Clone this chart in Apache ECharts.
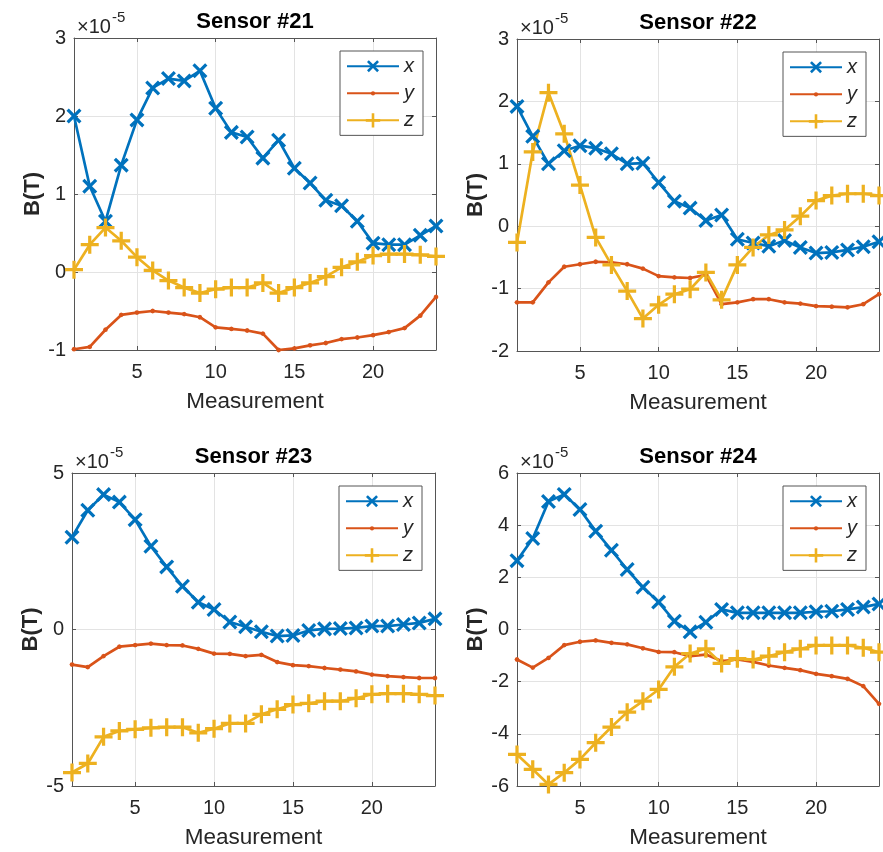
<!DOCTYPE html>
<html><head><meta charset="utf-8">
<script src="https://cdn.jsdelivr.net/npm/echarts@6/dist/echarts.min.js"></script>
<style>html,body{margin:0;padding:0;background:#fff}#c{width:883px;height:852px}</style>
</head><body><div id="c"></div>
<script>
// ---- data (B values in units of 1e-5 T) ----
const measurement = [1,2,3,4,5,6,7,8,9,10,11,12,13,14,15,16,17,18,19,20,21,22,23,24];
const sensorTitles = ['Sensor #21','Sensor #22','Sensor #23','Sensor #24'];
const seriesNames = ['x','y','z'];
const xTickValues = [5,10,15,20];
const exponentText = '-5';

const s21x = [2.0,1.1,0.65,1.37,1.95,2.36,2.48,2.45,2.58,2.10,1.79,1.73,1.46,1.69,1.33,1.14,0.92,0.85,0.65,0.37,0.35,0.35,0.47,0.59];
const s21y = [-0.99,-0.96,-0.74,-0.55,-0.52,-0.50,-0.52,-0.54,-0.58,-0.71,-0.73,-0.75,-0.79,-1.0,-0.98,-0.94,-0.91,-0.86,-0.84,-0.81,-0.77,-0.72,-0.56,-0.32];
const s21z = [0.03,0.35,0.57,0.40,0.19,0.02,-0.11,-0.20,-0.27,-0.22,-0.20,-0.20,-0.14,-0.27,-0.20,-0.14,-0.06,0.06,0.13,0.21,0.23,0.23,0.22,0.20];

const s22x = [1.92,1.44,1.0,1.21,1.29,1.25,1.16,1.0,1.01,0.70,0.40,0.29,0.09,0.18,-0.21,-0.27,-0.32,-0.23,-0.34,-0.43,-0.42,-0.38,-0.33,-0.25];
const s22y = [-1.22,-1.22,-0.90,-0.65,-0.61,-0.57,-0.58,-0.61,-0.68,-0.80,-0.82,-0.83,-0.78,-1.25,-1.22,-1.17,-1.17,-1.22,-1.24,-1.28,-1.29,-1.30,-1.25,-1.09];
const s22z = [-0.26,1.19,2.14,1.48,0.66,-0.18,-0.62,-1.04,-1.48,-1.26,-1.09,-1.01,-0.74,-1.18,-0.62,-0.34,-0.14,-0.06,0.16,0.41,0.49,0.52,0.52,0.49];

const s23x = [2.95,3.81,4.31,4.07,3.51,2.66,2.0,1.38,0.87,0.64,0.24,0.09,-0.07,-0.21,-0.19,-0.03,0.02,0.03,0.05,0.11,0.11,0.16,0.21,0.34];
const s23y = [-1.12,-1.20,-0.85,-0.55,-0.50,-0.45,-0.50,-0.51,-0.62,-0.77,-0.78,-0.85,-0.81,-1.04,-1.14,-1.17,-1.23,-1.28,-1.34,-1.44,-1.49,-1.52,-1.55,-1.55];
const s23z = [-4.57,-4.28,-3.43,-3.24,-3.19,-3.14,-3.12,-3.12,-3.30,-3.17,-3.0,-3.0,-2.71,-2.55,-2.40,-2.36,-2.29,-2.29,-2.20,-2.07,-2.05,-2.05,-2.07,-2.11];

const s24x = [2.64,3.49,4.91,5.18,4.60,3.77,3.04,2.30,1.62,1.05,0.32,-0.09,0.28,0.77,0.64,0.64,0.64,0.64,0.64,0.68,0.70,0.77,0.86,0.98];
const s24y = [-1.15,-1.46,-1.09,-0.60,-0.47,-0.42,-0.51,-0.57,-0.72,-0.86,-0.87,-1.02,-0.96,-1.21,-1.15,-1.24,-1.38,-1.47,-1.56,-1.70,-1.79,-1.89,-2.17,-2.85];
const s24z = [-4.79,-5.36,-5.94,-5.49,-4.98,-4.34,-3.74,-3.17,-2.75,-2.30,-1.43,-0.92,-0.74,-1.30,-1.12,-1.15,-1.02,-0.87,-0.74,-0.61,-0.61,-0.61,-0.70,-0.87];

const yTicks21 = [-1,0,1,2,3];
const yTicks22 = [-2,-1,0,1,2,3];
const yTicks23 = [-5,0,5];
const yTicks24 = [-6,-4,-2,0,2,4,6];

// ---- layout & style ----
const sensors = [
  {data:[s21x,s21y,s21z], ticks:yTicks21},
  {data:[s22x,s22y,s22z], ticks:yTicks22},
  {data:[s23x,s23y,s23z], ticks:yTicks23},
  {data:[s24x,s24y,s24z], ticks:yTicks24}
];
const grids = [
  {left:74, top:38, width:362, height:312},
  {left:517, top:39, width:362, height:312},
  {left:72, top:473, width:363, height:313},
  {left:517, top:473, width:362, height:313}
];
const W = 883;
const FONT = '"Liberation Sans", Arial, Helvetica, sans-serif';
const TXT = '#262626';
const AX = '#555555';
const GRIDC = '#e3e3e3';
const COLORS = ['#0072BD','#D95319','#EDB120'];
const PLUS = 'path://M41,0H59V41H100V59H59V100H41V59H0V41H41Z';
const DOT = 'path://M0,0L0,0M100,100L100,100M50,35L60.6,39.4L65,50L60.6,60.6L50,65L39.4,60.6L35,50L39.4,39.4Z';
const SYMBOLS = [
  {symbol:PLUS, symbolSize:18, symbolRotate:45},
  {symbol:DOT, symbolSize:16, symbolRotate:0},
  {symbol:PLUS, symbolSize:18, symbolRotate:0}
];

const option = {
  animation:false,
  backgroundColor:'#fff',
  grid:[], xAxis:[], yAxis:[], series:[], legend:[], graphic:[]
};

sensors.forEach((s, k) => {
  const g = grids[k];
  option.grid.push(Object.assign({show:false, outerBoundsMode:'none'}, g));
  const ymin = s.ticks[0], ymax = s.ticks[s.ticks.length-1], yint = s.ticks[1]-s.ticks[0];
  option.xAxis.push({
    type:'value', gridIndex:k, min:measurement[0], max:measurement[measurement.length-1], position:'bottom',
    axisLine:{show:true, onZero:false, lineStyle:{color:AX, width:1}},
    axisTick:{show:true, inside:true, length:4, customValues:xTickValues, lineStyle:{color:AX}},
    axisLabel:{show:true, customValues:xTickValues, margin:12, fontSize:20, color:TXT, fontFamily:FONT},
    splitLine:{show:true, lineStyle:{color:GRIDC, width:1}},
    name:'Measurement', nameLocation:'middle', nameGap:40, nameMoveOverlap:false,
    nameTextStyle:{fontSize:22.5, color:TXT, fontFamily:FONT}
  });
  option.xAxis.push({
    type:'value', gridIndex:k, min:measurement[0], max:measurement[measurement.length-1], position:'top',
    axisLine:{show:true, onZero:false, lineStyle:{color:AX, width:1}},
    axisTick:{show:true, inside:true, length:4, customValues:xTickValues, lineStyle:{color:AX}},
    axisLabel:{show:false}, splitLine:{show:false}
  });
  option.yAxis.push({
    type:'value', gridIndex:k, min:ymin, max:ymax, interval:yint, position:'left',
    axisLine:{show:true, onZero:false, lineStyle:{color:AX, width:1}},
    axisTick:{show:true, inside:true, length:4, lineStyle:{color:AX}},
    axisLabel:{show:true, margin:8, fontSize:20, color:TXT, fontFamily:FONT},
    splitLine:{show:true, lineStyle:{color:GRIDC, width:1}},
    name:'B(T)', nameLocation:'middle', nameGap:30, nameRotate:90, nameMoveOverlap:false,
    nameTextStyle:{fontSize:22, fontWeight:'bold', color:TXT, fontFamily:FONT}
  });
  option.yAxis.push({
    type:'value', gridIndex:k, min:ymin, max:ymax, interval:yint, position:'right',
    axisLine:{show:true, onZero:false, lineStyle:{color:AX, width:1}},
    axisTick:{show:true, inside:true, length:4, lineStyle:{color:AX}},
    axisLabel:{show:false}, splitLine:{show:false}
  });
  s.data.forEach((vals, c) => {
    option.series.push(Object.assign({
      type:'line', name:seriesNames[c], xAxisIndex:2*k, yAxisIndex:2*k,
      data: measurement.map((m, i) => [m, vals[i]]),
      showSymbol:true, showAllSymbol:true, clip:true,
      lineStyle:{color:COLORS[c], width:2.7},
      itemStyle:{color:COLORS[c], borderWidth:0},
      emphasis:{disabled:true}, silent:true
    }, SYMBOLS[c]));
  });
  option.legend.push({
    data:seriesNames, orient:'vertical',
    right: W - (g.left + g.width - 13), top: g.top + 13,
    itemWidth:52, itemHeight:18, itemGap:7,
    padding:[5,9,5,6],
    backgroundColor:'#fff', borderColor:AX, borderWidth:1, borderRadius:0,
    selectedMode:false,
    textStyle:{fontSize:20, fontStyle:'italic', color:TXT, fontFamily:FONT}
  });
  option.graphic.push({
    type:'text', x:g.left + g.width/2, y:g.top - 16, silent:true,
    style:{text:sensorTitles[k], fontSize:22, fontWeight:'bold', fontFamily:FONT, fill:'#000', align:'center', verticalAlign:'middle'}
  });
  option.graphic.push({
    type:'text', x:g.left + 3, y:g.top - 11, silent:true,
    style:{text:'×10', fontSize:20, fontFamily:FONT, fill:TXT, align:'left', verticalAlign:'middle'}
  });
  option.graphic.push({
    type:'text', x:g.left + 38, y:g.top - 20, silent:true,
    style:{text:exponentText, fontSize:15, fontFamily:FONT, fill:TXT, align:'left', verticalAlign:'middle'}
  });
});

const chart = echarts.init(document.getElementById('c'), null, {renderer:'canvas'});
chart.setOption(option);
</script>
</body></html>
